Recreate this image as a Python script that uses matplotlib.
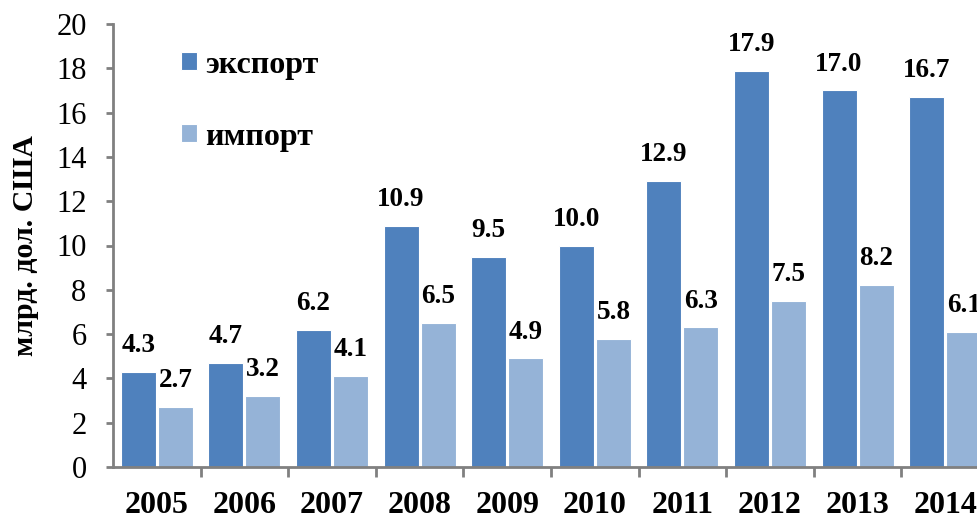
import numpy as np
import matplotlib.pyplot as plt

plt.rcParams['font.family'] = ['Liberation Serif', 'DejaVu Serif']

years = ['2005', '2006', '2007', '2008', '2009', '2010', '2011', '2012', '2013', '2014']
export_vals = [4.3, 4.7, 6.2, 10.9, 9.5, 10.0, 12.9, 17.9, 17.0, 16.7]
import_vals = [2.7, 3.2, 4.1, 6.5, 4.9, 5.8, 6.3, 7.5, 8.2, 6.1]

c_export = '#4F81BD'
c_import = '#95B3D7'

fig = plt.figure(figsize=(9.77, 5.2), dpi=100)
# the plot area runs past the right edge, like in the original
ax = fig.add_axes([113 / 977, 53 / 520, 876 / 977, 443 / 520])

x = np.arange(len(years))
w = 0.40
b1 = ax.bar(x - 0.212, export_vals, w, color=c_export, edgecolor='white', linewidth=0.8, label='экспорт')
b2 = ax.bar(x + 0.212, import_vals, w, color=c_import, edgecolor='white', linewidth=0.8, label='импорт')

for bars, vals in ((b1, export_vals), (b2, import_vals)):
    for rect, v in zip(bars, vals):
        ax.annotate(f'{v:.1f}', (rect.get_x() + rect.get_width() / 2, v),
                    xytext=(0, 10), textcoords='offset points',
                    ha='center', va='bottom', fontsize=19.5, fontweight='bold')

ax.set_xlim(-0.5, len(years) - 0.5)
ax.set_ylim(0, 20)
ax.set_yticks(range(0, 21, 2))
ax.tick_params(axis='y', labelsize=22, length=5, width=2, color='#808080', pad=14)

ax.set_xticks(x)
ax.set_xticklabels(years, fontsize=23, fontweight='bold')
ax.tick_params(axis='x', length=0, pad=17)
ax.set_xticks(x[:-1] + 0.5, minor=True)
ax.tick_params(axis='x', which='minor', length=7, width=2, color='#808080')

for s in ('top', 'right'):
    ax.spines[s].set_visible(False)
for s in ('left', 'bottom'):
    ax.spines[s].set_color('#808080')
    ax.spines[s].set_linewidth(2)

ax.set_ylabel('млрд. дол. США', fontsize=21.5, fontweight='bold', labelpad=12)

leg = ax.legend(loc='upper left', bbox_to_anchor=(0.045, 1.005), frameon=False,
                prop={'size': 23, 'weight': 'bold'}, handlelength=0.5, handleheight=0.5,
                handletextpad=0.25, labelspacing=1.35)

fig.savefig('out.png', dpi=100)
